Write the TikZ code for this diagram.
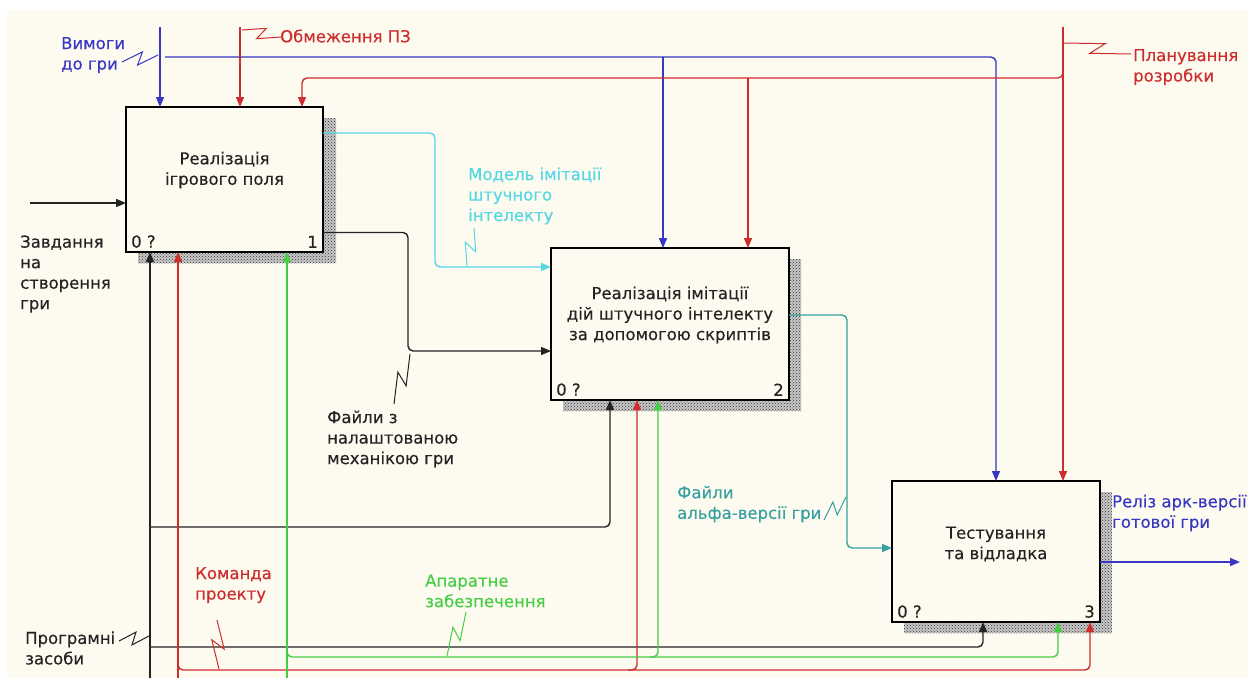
\documentclass[tikz,border=0pt]{standalone}
\usepackage{fontspec}
\setmainfont{DejaVu Sans}
\newfontfamily\diafont[FakeBold=0.3]{DejaVu Sans}
\usetikzlibrary{arrows.meta,calc,patterns}

\definecolor{paper}{RGB}{253,250,240}
\definecolor{ink}{RGB}{35,35,35}
\definecolor{bluA}{RGB}{55,55,195}
\definecolor{redA}{RGB}{205,45,45}
\definecolor{cyanA}{RGB}{85,215,228}
\definecolor{tealA}{RGB}{55,160,160}
\definecolor{greenA}{RGB}{70,205,70}

\tikzset{
  activity/.style={draw=black, line width=2.6pt, fill=paper, rectangle,
    inner sep=0pt, outer sep=0pt, anchor=north west},
  shadowbase/.style={fill=black!22},
  shadowbox/.style={pattern=crosshatch dots, pattern color=black!80},
  flow/.style={line width=1.4pt, rounded corners=5pt,
    -{Triangle[length=10pt,width=8pt]}},
  txt/.style={font=\diafont\fontsize{16.5}{20.5}\selectfont, inner sep=0pt},
  lbl/.style={txt, align=left, anchor=west},
  boxtxt/.style={txt, align=center, text=ink},
  corner/.style={txt, text=ink},
  squig/.style={line width=1pt, line join=miter},
}

% IDEF0 squiggle joining a label to its arrow: a small lightning zigzag
\newcommand\bolt[3]{\draw[squig,#1] (#2) -- ($(#2)!0.6!(#3)!6pt!90:(#3)$)
  -- ($(#2)!0.4!(#3)!6pt!-90:(#3)$) -- (#3);}

% hatched drop shadow behind an activity box
\newcommand\boxshade[2]{\fill[shadowbase] (#1) rectangle (#2);
  \fill[shadowbox] (#1) rectangle (#2);}

\begin{document}
\begin{tikzpicture}[x=1pt,y=-1pt]
\useasboundingbox (0,0) rectangle (1248,678);
\fill[white] (0,0) rectangle (1248,678);
\fill[paper] (7,10) rectangle (1248,678);

% shadows of the activity boxes
\boxshade{138,118}{336,263}
\boxshade{563,259}{801,411}
\boxshade{904,492}{1112,633}

% activity boxes
\node[activity, minimum width=197pt, minimum height=145pt] (b1) at (126,107) {};
\node[activity, minimum width=238pt, minimum height=152pt] (b2) at (551,248) {};
\node[activity, minimum width=208pt, minimum height=141pt] (b3) at (892,481) {};

\node[boxtxt] (t1) at (224.5,170) {Реалізація\\ігрового поля};
\node[boxtxt] (t2) at (670,315) {Реалізація імітації\\дій штучного інтелекту\\за допомогою скриптів};
\node[boxtxt] (t3) at (996,544) {Тестування\\та відладка};

\node[corner, anchor=south west] (c1a) at ([shift={(5pt,4pt)}]b1.south west) {0 ?};
\node[corner, anchor=south east] (c1b) at ([shift={(-5pt,4pt)}]b1.south east) {1};
\node[corner, anchor=south west] (c2a) at ([shift={(5pt,4pt)}]b2.south west) {0 ?};
\node[corner, anchor=south east] (c2b) at ([shift={(-5pt,4pt)}]b2.south east) {2};
\node[corner, anchor=south west] (c3a) at ([shift={(5pt,4pt)}]b3.south west) {0 ?};
\node[corner, anchor=south east] (c3b) at ([shift={(-5pt,4pt)}]b3.south east) {3};

% free ends and bends of the arrows
\coordinate (vimS) at (160,27);
\coordinate (vimJ) at (165,57);
\coordinate (vimT) at (663,57);
\coordinate (obS) at (240,27);
\coordinate (plS) at (1063,27);
\coordinate (plJ) at (1063,70);
\coordinate (plT1) at (302,78);
\coordinate (plT2) at (748,78);
\coordinate (cyK) at (435,200);
\coordinate (fiK) at (408,300);
\coordinate (alK) at (847,450);
\coordinate (relE) at (1240,562);
\coordinate (zavS) at (30,203);
\coordinate (prS) at (150,678);
\coordinate (prJ1) at (150,527);
\coordinate (prJ2) at (150,647);
\coordinate (kmS) at (178,678);
\coordinate (kmJ) at (178,663);
\coordinate (kmK) at (1090,670);
\coordinate (kmT) at (628,670);
\coordinate (apS) at (287,678);
\coordinate (apJ) at (287,650);
\coordinate (apK) at (1058,657);
\coordinate (apT) at (650,657);

% controls
\draw[flow,bluA] (vimS) -- (vimS |- b1.north);
\draw[flow,bluA] (vimJ) -| (b3.north);
\draw[flow,bluA] (vimT) -- (vimT |- b2.north);
\draw[flow,redA] (obS) -- (obS |- b1.north);
\draw[flow,redA] (plS) -- (plS |- b3.north);
\draw[flow,redA] (plJ) |- (plT1) -- (plT1 |- b1.north);
\draw[flow,redA] (plT2) -- (plT2 |- b2.north);

% inputs and outputs
\draw[flow,ink] (zavS) -- (zavS -| b1.west);
\draw[flow,cyanA] ([yshift=46.5pt]b1.east) -| (cyK) |- ([yshift=57pt]b2.west);
\draw[flow,ink] ([yshift=-53pt]b1.east) -| (fiK) |- ([yshift=-27pt]b2.west);
\draw[flow,tealA] ([yshift=9pt]b2.east) -| (alK) |- ([yshift=3.5pt]b3.west);
\draw[flow,bluA] (relE -| b3.east) -- (relE);

% mechanisms
\draw[flow,ink] (prS) -- (prS |- b1.south);
\draw[flow,ink] (prJ1) -| ([xshift=-60pt]b2.south);
\draw[flow,ink] (prJ2) -| ([xshift=-13pt]b3.south);
\draw[flow,redA] (kmS) -- (kmS |- b1.south);
\draw[flow,redA] (kmJ) |- (kmK) -- (kmK |- b3.south);
\draw[flow,redA] (kmT) -| ([xshift=-33pt]b2.south);
\draw[flow,greenA] (apS) -- (apS |- b1.south);
\draw[flow,greenA] (apJ) |- (apK) -- (apK |- b3.south);
\draw[flow,greenA] (apT) -| ([xshift=-12pt]b2.south);

% labels
\node[lbl, text=bluA] (lVim) at (61,55) {Вимоги\\до гри};
\node[lbl, text=redA] (lOb) at (280,36) {Обмеження ПЗ};
\node[lbl, text=redA] (lPl) at (1133,67) {Планування\\розробки};
\node[lbl, text=cyanA] (lMod) at (468,196) {Модель імітації\\штучного\\інтелекту};
\node[lbl, text=ink] (lFi) at (327,439) {Файли з\\налаштованою\\механікою гри};
\node[lbl, text=tealA] (lAl) at (677,504) {Файли\\альфа-версії гри};
\node[lbl, text=bluA] (lRel) at (1112,513) {Реліз арк-версії\\готової гри};
\node[lbl, text=ink] (lZav) at (20,274) {Завдання\\на\\створення\\гри};
\node[lbl, text=redA] (lKm) at (195,585) {Команда\\проекту};
\node[lbl, text=greenA] (lAp) at (425,591) {Апаратне\\забезпечення};
\node[lbl, text=ink] (lPr) at (25,648) {Програмні\\засоби};

% squiggles
\coordinate (s1a) at (122,62);  \coordinate (s1b) at (158,55);
\coordinate (s2a) at (242,30);  \coordinate (s2b) at (281,37);
\coordinate (s3a) at (1064,43); \coordinate (s3b) at (1131,54);
\coordinate (s4a) at (467,266); \coordinate (s4b) at (474,228);
\coordinate (s5a) at (410,354); \coordinate (s5b) at (394,404);
\coordinate (s6a) at (846,497); \coordinate (s6b) at (824,520);
\coordinate (s7a) at (119,641); \coordinate (s7b) at (149,636);
\coordinate (s8a) at (217,620); \coordinate (s8b) at (219,669);
\coordinate (s9a) at (466,612); \coordinate (s9b) at (447,656);
\bolt{bluA}{s1a}{s1b}
\bolt{redA}{s2a}{s2b}
\bolt{redA}{s3a}{s3b}
\bolt{cyanA}{s4a}{s4b}
\bolt{ink}{s5a}{s5b}
\bolt{tealA}{s6a}{s6b}
\bolt{ink}{s7a}{s7b}
\bolt{redA}{s8a}{s8b}
\bolt{greenA}{s9a}{s9b}
\end{tikzpicture}
\end{document}
